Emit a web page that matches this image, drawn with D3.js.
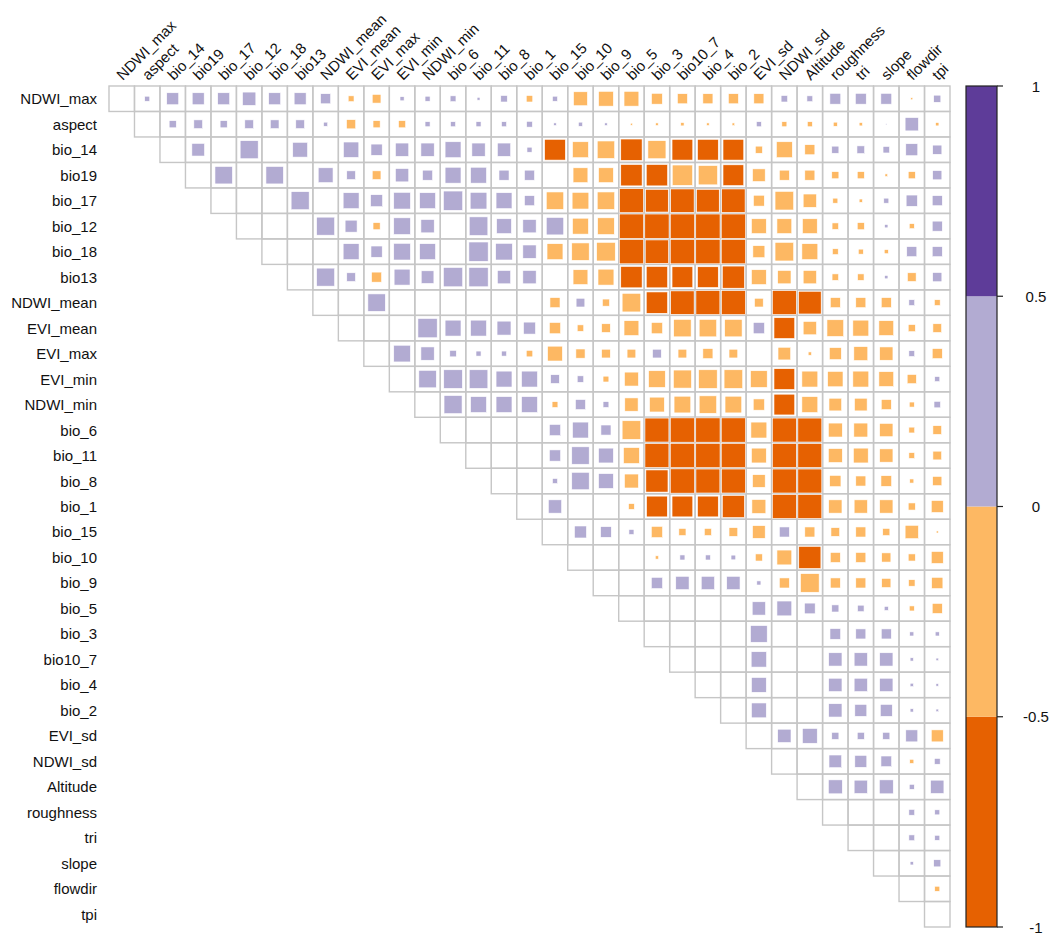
<!DOCTYPE html>
<html>
<head>
<meta charset="utf-8">
<script src="https://cdn.jsdelivr.net/npm/d3@7"></script>
<style>
  body { margin: 0; background: #fff; }
  text { font-family: "Liberation Sans", Arial, sans-serif; }
</style>
</head>
<body>
<div class="chart"></div>
<script>
const width = 1054
const height = 934

// variable order (rows and columns)
const vars = ['NDWI_max', 'aspect', 'bio_14', 'bio19', 'bio_17', 'bio_12', 'bio_18', 'bio13',
  'NDWI_mean', 'EVI_mean', 'EVI_max', 'EVI_min', 'NDWI_min', 'bio_6', 'bio_11', 'bio_8', 'bio_1',
  'bio_15', 'bio_10', 'bio_9', 'bio_5', 'bio_3', 'bio10_7', 'bio_4', 'bio_2', 'EVI_sd', 'NDWI_sd',
  'Altitude', 'roughness', 'tri', 'slope', 'flowdir', 'tpi']

// upper triangle, row i holds columns i+1 .. 32 (null = blank cell)
const corrRows = [
  [0.03, 0.17, 0.17, 0.17, 0.21, 0.17, 0.17, 0.12, -0.04, -0.09, 0.02, 0.03, 0.04, 0.01, 0.05, -0.05, 0.03, -0.23, -0.26, -0.26, -0.14, -0.12, -0.12, -0.12, -0.12, 0.05, 0.04, 0.14, 0.14, 0.14, -0.005, 0.06],
  [0.06, 0.09, 0.06, 0.09, 0.09, 0.09, 0.02, -0.10, -0.06, -0.06, 0.03, 0.03, 0.03, 0.03, 0.04, 0.008, 0.02, 0.008, -0.005, -0.008, -0.013, -0.008, -0.008, 0.03, -0.03, -0.03, -0.02, -0.013, 0.002, 0.21, -0.013],
  [0.19, null, 0.385, null, 0.26, null, 0.28, 0.15, 0.21, 0.21, 0.30, 0.21, 0.21, 0.03, -0.51, -0.30, -0.36, -0.54, -0.385, -0.51, -0.51, -0.51, -0.06, -0.30, -0.12, 0.06, 0.07, 0.05, 0.17, 0.10],
  [0.36, null, 0.36, null, 0.26, 0.09, -0.09, 0.21, 0.12, 0.30, 0.30, 0.12, 0.12, null, -0.26, -0.26, -0.54, -0.54, -0.49, -0.44, -0.51, -0.19, -0.12, -0.12, -0.06, -0.06, -0.008, -0.06, 0.10],
  [null, null, 0.385, null, 0.30, 0.17, 0.33, 0.30, 0.44, 0.33, 0.30, 0.12, -0.36, -0.33, -0.36, -0.68, -0.61, -0.65, -0.61, -0.65, -0.14, -0.41, -0.21, -0.03, -0.013, 0.03, 0.15, 0.12],
  [null, null, 0.385, 0.17, -0.06, 0.33, 0.21, null, 0.41, 0.26, 0.21, 0.36, -0.30, -0.33, -0.8, -0.8, -0.8, -0.8, -0.8, -0.26, -0.26, -0.26, -0.05, -0.06, 0.013, -0.03, 0.12],
  [null, null, 0.30, 0.15, 0.33, 0.30, null, 0.44, 0.33, 0.21, -0.30, -0.36, -0.41, -0.8, -0.65, -0.8, -0.8, -0.8, -0.17, -0.41, -0.30, -0.04, -0.03, -0.02, 0.12, 0.12],
  [0.385, 0.09, -0.12, 0.30, 0.19, 0.44, 0.44, 0.21, 0.21, null, -0.26, -0.30, -0.54, -0.54, -0.51, -0.51, -0.58, -0.26, -0.21, -0.21, -0.05, -0.05, 0.013, -0.09, 0.10],
  [null, 0.36, null, null, null, null, null, null, -0.12, 0.09, -0.06, -0.41, -0.54, -0.65, -0.68, -0.68, -0.09, -0.68, -0.61, -0.12, -0.12, -0.12, 0.04, -0.04],
  [null, null, 0.44, 0.30, 0.30, 0.23, 0.17, -0.15, -0.05, -0.09, -0.26, -0.15, -0.36, -0.36, -0.36, 0.15, -0.51, -0.21, -0.33, -0.30, -0.26, -0.06, -0.09],
  [0.33, 0.21, 0.05, 0.03, 0.03, -0.05, -0.26, -0.10, -0.09, -0.09, 0.09, -0.09, -0.12, -0.09, null, -0.19, -0.013, -0.17, -0.23, -0.21, 0.04, -0.12],
  [0.36, 0.41, 0.41, 0.30, 0.30, 0.09, 0.05, -0.04, -0.23, -0.33, -0.385, -0.41, -0.41, -0.33, -0.51, -0.30, -0.28, -0.30, -0.26, -0.10, 0.03],
  [0.385, 0.30, 0.30, 0.30, -0.04, 0.12, 0.04, -0.21, -0.26, -0.33, -0.36, -0.33, -0.15, -0.51, -0.30, -0.19, -0.19, -0.12, -0.03, 0.05],
  [null, null, null, 0.15, 0.30, 0.12, -0.41, -0.68, -0.8, -0.8, -0.8, -0.30, -0.68, -0.68, -0.23, -0.23, -0.21, -0.04, -0.09],
  [null, null, 0.15, 0.36, 0.26, -0.30, -0.68, -0.8, -0.8, -0.8, -0.26, -0.68, -0.68, -0.23, -0.26, -0.21, -0.04, -0.09],
  [null, 0.03, 0.36, 0.26, -0.23, -0.58, -0.8, -0.68, -0.68, -0.19, -0.68, -0.68, -0.15, -0.12, -0.135, -0.02, -0.10],
  [0.21, null, null, -0.04, -0.51, -0.51, -0.51, -0.58, -0.23, -0.68, -0.68, -0.21, -0.21, -0.21, -0.06, -0.17],
  [0.17, 0.135, 0.03, -0.15, -0.06, -0.06, -0.09, -0.19, 0.12, -0.12, -0.09, -0.12, -0.06, -0.21, -0.005],
  [null, null, -0.013, 0.03, 0.03, 0.026, -0.06, -0.26, -0.58, -0.12, -0.12, -0.10, -0.06, -0.17],
  [null, 0.15, 0.21, 0.21, 0.21, 0.02, -0.12, -0.41, -0.12, -0.12, -0.10, -0.05, -0.15],
  [null, null, null, null, 0.21, 0.26, 0.135, 0.06, 0.05, 0.02, -0.03, -0.12],
  [null, null, null, 0.33, null, null, 0.135, 0.12, 0.12, 0.02, 0.02],
  [null, null, 0.28, null, null, 0.21, 0.21, 0.21, 0.013, 0.008],
  [null, 0.26, null, null, 0.21, 0.21, 0.21, 0.013, 0.008],
  [0.26, null, null, 0.21, 0.17, 0.17, 0.013, 0.008],
  [0.21, 0.26, 0.06, 0.06, 0.06, 0.17, -0.17],
  [null, 0.19, 0.17, 0.135, -0.02, 0.04],
  [0.23, 0.21, 0.23, 0.03, 0.21],
  [null, null, 0.04, 0.03],
  [null, 0.04, 0.03],
  [0.013, 0.06],
  [-0.03],
  []
]

// colour bins and legend ticks
const binBreaks = [-0.5, 0, 0.5]
const binColors = ['#E66101', '#FDB863', '#B2ABD2', '#5E3C99']
const legendTicks = [1, 0.5, 0, -0.5, -1]

// flatten to cells
let cells = []
corrRows.forEach((row, i) => {
  cells.push({ r: vars[i], c: vars[i], v: null })
  row.forEach((v, k) => {
    cells.push({ r: vars[i], c: vars[i + 1 + k], v: v })
  })
})

const svg = d3.select('.chart').append('svg')
  .attr('width', width)
  .attr('height', height)
  .attr('viewBox', [0, 0, width, height])

const x = d3.scaleBand().domain(vars).range([109, 950])
const y = d3.scaleBand().domain(vars).range([86, 927])
const color = d3.scaleThreshold().domain(binBreaks).range(binColors)
const bw = x.bandwidth()
const side = v => Math.min(bw - 1.2, bw * 1.14 * Math.sqrt(Math.abs(v)))

// grid
svg.append('g')
  .selectAll('rect')
  .data(cells)
  .join('rect')
  .attr('x', d => x(d.c))
  .attr('y', d => y(d.r))
  .attr('width', bw)
  .attr('height', bw)
  .attr('fill', 'none')
  .attr('stroke', '#c6c6c6')
  .attr('stroke-width', 1.4)

// squares
svg.append('g')
  .selectAll('rect')
  .data(cells.filter(d => d.v !== null))
  .join('rect')
  .attr('x', d => x(d.c) + bw / 2 - side(d.v) / 2)
  .attr('y', d => y(d.r) + bw / 2 - side(d.v) / 2)
  .attr('width', d => side(d.v))
  .attr('height', d => side(d.v))
  .attr('fill', d => color(d.v))
  .attr('stroke', '#fff')
  .attr('stroke-width', 0.6)

// row labels
svg.append('g')
  .selectAll('text')
  .data(vars)
  .join('text')
  .attr('x', 97)
  .attr('y', d => y(d) + bw / 2)
  .attr('text-anchor', 'end')
  .attr('dominant-baseline', 'central')
  .attr('font-size', 15)
  .attr('fill', '#111')
  .text(d => d)

// column labels, rotated
svg.append('g')
  .selectAll('text')
  .data(vars)
  .join('text')
  .attr('transform', d => `translate(${x(d) + bw / 2 + 1}, 81) rotate(-45)`)
  .attr('font-size', 15)
  .attr('fill', '#111')
  .text(d => d)

// colour legend
const ly = d3.scaleLinear().domain([-1, 1]).range([927, 86])
const legend = svg.append('g')

legend.selectAll('rect')
  .data(binColors)
  .join('rect')
  .attr('x', 966)
  .attr('y', (d, i) => ly(-1 + (i + 1) * 0.5))
  .attr('width', 31)
  .attr('height', (d, i) => ly(-1 + i * 0.5) - ly(-1 + (i + 1) * 0.5))
  .attr('fill', d => d)

legend.append('rect')
  .attr('x', 966)
  .attr('y', 86)
  .attr('width', 31)
  .attr('height', 841)
  .attr('fill', 'none')
  .attr('stroke', '#222')
  .attr('stroke-width', 1.2)

legend.selectAll('line')
  .data(legendTicks)
  .join('line')
  .attr('x1', 997)
  .attr('x2', 1003)
  .attr('y1', d => ly(d))
  .attr('y2', d => ly(d))
  .attr('stroke', '#222')
  .attr('stroke-width', 1.2)

legend.selectAll('text')
  .data(legendTicks)
  .join('text')
  .attr('x', 1036)
  .attr('y', d => ly(d))
  .attr('text-anchor', 'middle')
  .attr('dominant-baseline', 'central')
  .attr('font-size', 15)
  .attr('fill', '#111')
  .text(d => d)
</script>
</body>
</html>
